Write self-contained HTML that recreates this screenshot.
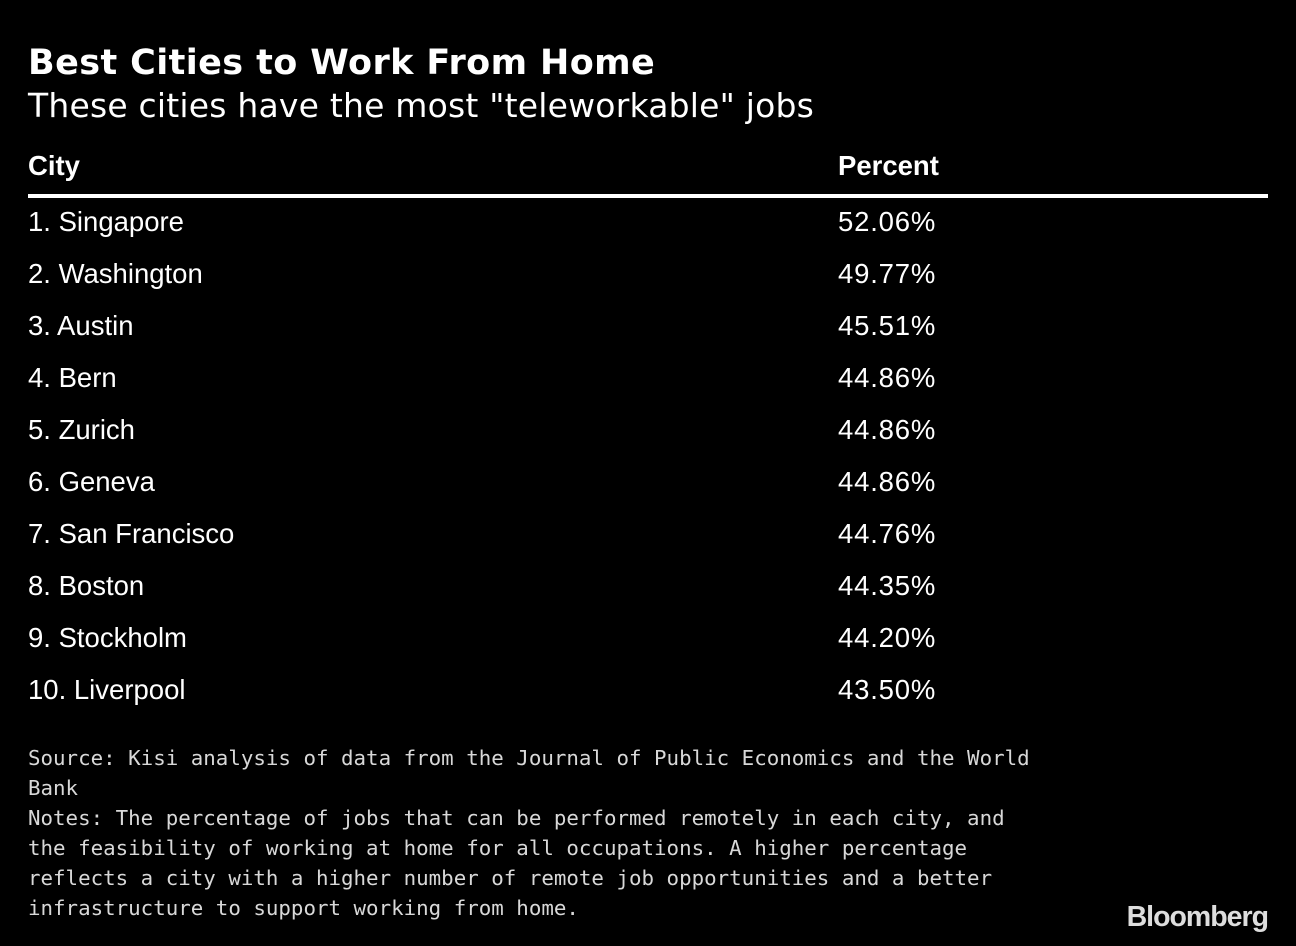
<!DOCTYPE html>
<html><head><meta charset="utf-8"><style>
body{margin:0;background:#000;width:1296px;height:946px;overflow:hidden;position:relative;color:#fff}
.t{position:absolute;left:28px;top:43px;font:bold 35px "DejaVu Sans",sans-serif;letter-spacing:0.4px}
.s{position:absolute;left:28px;top:86px;font:33px "DejaVu Sans",sans-serif;letter-spacing:0.2px}
.h{position:absolute;top:150px;font:bold 27.5px "Liberation Sans",sans-serif}
.line{position:absolute;left:28px;top:194px;width:1240px;height:4px;background:#fff}
.r{position:absolute;font:27.5px "Liberation Sans",sans-serif}
.n{letter-spacing:0.8px}
.f{position:absolute;left:28px;top:743px;font:20.8px/30px "DejaVu Sans Mono",monospace;color:#d8d8d8;white-space:pre}
.b{position:absolute;right:28px;top:901px;font:bold 28.5px "Liberation Sans",sans-serif;letter-spacing:-1px;color:#ddd}
</style></head><body>
<div class="t">Best Cities to Work From Home</div>
<div class="s">These cities have the most "teleworkable" jobs</div>
<div class="h" style="left:28px">City</div>
<div class="h" style="left:838px">Percent</div>
<div class="line"></div>
<div class="r" style="left:28px;top:206px">1. Singapore</div><div class="r n" style="left:838px;top:206px">52.06%</div>
<div class="r" style="left:28px;top:258px">2. Washington</div><div class="r n" style="left:838px;top:258px">49.77%</div>
<div class="r" style="left:28px;top:310px">3. Austin</div><div class="r n" style="left:838px;top:310px">45.51%</div>
<div class="r" style="left:28px;top:362px">4. Bern</div><div class="r n" style="left:838px;top:362px">44.86%</div>
<div class="r" style="left:28px;top:414px">5. Zurich</div><div class="r n" style="left:838px;top:414px">44.86%</div>
<div class="r" style="left:28px;top:466px">6. Geneva</div><div class="r n" style="left:838px;top:466px">44.86%</div>
<div class="r" style="left:28px;top:518px">7. San Francisco</div><div class="r n" style="left:838px;top:518px">44.76%</div>
<div class="r" style="left:28px;top:570px">8. Boston</div><div class="r n" style="left:838px;top:570px">44.35%</div>
<div class="r" style="left:28px;top:622px">9. Stockholm</div><div class="r n" style="left:838px;top:622px">44.20%</div>
<div class="r" style="left:28px;top:674px">10. Liverpool</div><div class="r n" style="left:838px;top:674px">43.50%</div>
<div class="f">Source: Kisi analysis of data from the Journal of Public Economics and the World
Bank
Notes: The percentage of jobs that can be performed remotely in each city, and
the feasibility of working at home for all occupations. A higher percentage
reflects a city with a higher number of remote job opportunities and a better
infrastructure to support working from home.</div>
<div class="b">Bloomberg</div>
</body></html>
